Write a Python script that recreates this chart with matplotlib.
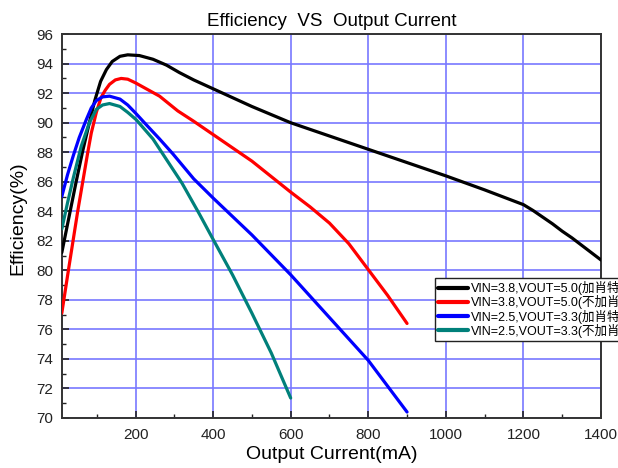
import matplotlib
matplotlib.use("Agg")
import matplotlib.pyplot as plt
from matplotlib.ticker import MultipleLocator

plt.rcParams['font.family'] = ['Liberation Sans', 'Noto Sans CJK SC', 'DejaVu Sans']

# Data
black_x = [10, 30, 47, 64, 81, 95, 110, 125, 140, 160, 180, 210, 245, 280, 313, 350, 400, 500, 600, 700, 800, 900,
           1000, 1100, 1150, 1200, 1225, 1250, 1275, 1300, 1325, 1350, 1375, 1400]
black_y = [81.2, 83.8, 86.0, 88.1, 90.0, 91.5, 92.8, 93.6, 94.15, 94.5, 94.6, 94.55, 94.3, 93.9, 93.4, 92.9, 92.3, 91.1, 90.0, 89.1, 88.2, 87.3,
           86.4, 85.45, 84.95, 84.45, 84.05, 83.6, 83.15, 82.65, 82.2, 81.7, 81.2, 80.7]

red_x = [10, 27, 51, 77, 86, 99, 111, 122, 133, 148, 163, 180, 200, 262, 309, 350, 400, 500, 600, 650, 700, 750, 800, 850, 900]
red_y = [77.1, 80.0, 84.0, 88.0, 89.3, 90.7, 91.7, 92.2, 92.6, 92.9, 93.0, 92.95, 92.7, 91.8, 90.8, 90.1, 89.2, 87.4, 85.3, 84.3, 83.2, 81.8, 80.05, 78.3, 76.4]

blue_x = [10, 25, 40, 55, 73, 86, 99, 115, 133, 160, 180, 202, 230, 262, 296, 350, 400, 500, 600, 700, 800, 900]
blue_y = [85.0, 86.5, 87.8, 89.0, 90.2, 91.0, 91.5, 91.75, 91.8, 91.6, 91.2, 90.6, 89.8, 88.9, 87.9, 86.2, 84.9, 82.4, 79.7, 76.8, 73.9, 70.4]

teal_x = [10, 25, 40, 60, 81, 99, 115, 133, 160, 180, 202, 245, 270, 320, 365, 400, 450, 500, 550, 600]
teal_y = [82.8, 84.6, 86.3, 88.4, 90.0, 90.9, 91.2, 91.3, 91.1, 90.7, 90.2, 88.9, 87.9, 85.9, 83.8, 82.1, 79.7, 77.1, 74.4, 71.35]

labels = ["VIN=3.8,VOUT=5.0(加肖特基)", "VIN=3.8,VOUT=5.0(不加肖特基)",
          "VIN=2.5,VOUT=3.3(加肖特基)", "VIN=2.5,VOUT=3.3(不加肖特基)"]
colors = ["#000000", "#ff0000", "#0000ff", "#00807a"]

fig = plt.figure(figsize=(6.18, 4.68), dpi=100)
ax = fig.add_axes([0.100, 0.107, 0.8725, 0.820])

series = [(black_x, black_y), (red_x, red_y), (blue_x, blue_y), (teal_x, teal_y)]
handles = []
for (xs, ys), c, lab in zip(series, colors, labels):
    h, = ax.plot(xs, ys, color=c, lw=2.3, label=lab, solid_capstyle='round',
                 solid_joinstyle='round', zorder=3)
    handles.append(h)

ax.set_xlim(10, 1400)
ax.set_ylim(70, 96)
ax.xaxis.set_major_locator(MultipleLocator(200))
ax.xaxis.set_minor_locator(MultipleLocator(100))
ax.yaxis.set_major_locator(MultipleLocator(2))
ax.yaxis.set_minor_locator(MultipleLocator(1))
ax.grid(True, which='major', color='#7878ff', lw=1.2, zorder=1)
ax.tick_params(which='both', direction='in', top=False, right=False, labelsize=11, colors='#222222')
ax.tick_params(axis='y', which='major', pad=6)
ax.tick_params(axis='x', which='major', pad=7)
ax.tick_params(which='major', length=5, width=1.2)
ax.tick_params(which='minor', length=3, width=1.0)
for sp in ax.spines.values():
    sp.set_linewidth(1.4)
    sp.set_color('#333333')

ax.set_xlabel("Output Current(mA)", fontsize=14, labelpad=3)
ax.set_ylabel("Efficiency(%)", fontsize=14, labelpad=8)
ax.yaxis.set_label_coords(-0.065, 0.52)
ax.set_title("Efficiency  VS  Output Current", fontsize=13.5, pad=6)

leg = fig.legend(handles=handles, loc='upper left', bbox_to_anchor=(0.704, 0.406),
                 bbox_transform=fig.transFigure, fontsize=9, frameon=True,
                 fancybox=False, edgecolor='#222222', framealpha=1,
                 labelspacing=0.02, handlelength=2.4, handletextpad=0.2, borderpad=0.25,
                 borderaxespad=0)
leg.get_frame().set_linewidth(1.0)
for line in leg.get_lines():
    line.set_linewidth(3)

fig.savefig("out.png", dpi=100)
